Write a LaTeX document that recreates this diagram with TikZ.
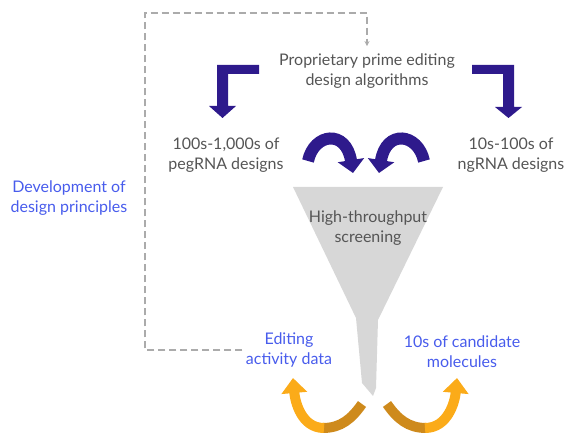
\documentclass[tikz,border=0pt]{standalone}
\usepackage{fontspec}
\setmainfont{Lato}
\usetikzlibrary{arrows.meta}
\usetikzlibrary{positioning}

\definecolor{arrowblue}{RGB}{46,26,140}
\definecolor{labelblue}{RGB}{72,92,236}
\definecolor{labelgrey}{RGB}{85,85,85}
\definecolor{funnelgrey}{RGB}{215,215,215}
\definecolor{orangedark}{RGB}{206,138,28}
\definecolor{orangelight}{RGB}{251,171,25}

\begin{document}
\begin{tikzpicture}[x=1pt,y=-1pt,
  greytext/.style={font=\fontsize{16}{20}\selectfont,text=labelgrey,align=center},
  bluetext/.style={font=\fontsize{16}{20}\selectfont,text=labelblue,align=center},
  dashline/.style={draw=black!33,line width=1.2pt,dash pattern=on 7pt off 4pt},
  bluecurve/.style={draw=arrowblue,line width=12pt,-{Triangle[width=26pt,length=13pt]}},
  orangecurve/.style={line width=10pt}]
\useasboundingbox (0,0) rectangle (565,435);

% funnel
\fill[funnelgrey] (293,187) -- (443,187) -- (378,320) -- (376,388) -- (373,396) -- (362,383) -- (356,318) -- cycle;

\node[greytext] (algo) at (367,71) {Proprietary prime editing\\design algorithms};
\node[greytext] (peg) at (226,155) {100s-1,000s of\\pegRNA designs};
\node[greytext] (ng) at (511,155) {10s-100s of\\ngRNA designs};
\node[greytext] (screen) at (368,228) {High-throughput\\screening};
\node[bluetext] (devel) at (69,198) {Development of\\design principles};
\node[bluetext] (edit) at (289,350) {Editing\\activity data};
\node[bluetext] (cand) at (462,352) {10s of candidate\\molecules};

% elbow arrows
\fill[arrowblue] (259,65) -- (217,65) -- (217,106) -- (209,106) -- (222.5,118) -- (236,106) -- (228,106) -- (228,74) -- (259,74) -- cycle;
\fill[arrowblue] (472,65) -- (514,65) -- (514,107) -- (522,107) -- (508.5,118) -- (495,107) -- (503,107) -- (503,74) -- (472,74) -- cycle;

% curved arrows into the funnel
\draw[bluecurve] (308,161) .. controls (314,133) and (346,129) .. (353,173);
\draw[bluecurve] (424,161) .. controls (418,133) and (386,129) .. (379,173);

% curved arrows out of the funnel
\draw[orangecurve,draw=orangedark] (362,404) to[out=235,in=0] (323,428);
\draw[orangecurve,draw=orangelight,-{Triangle[width=25pt,length=15pt]}] (324,428) to[out=180,in=-85] (293,378);
\draw[orangecurve,draw=orangedark] (387,404) to[out=-55,in=180] (426,428);
\draw[orangecurve,draw=orangelight,-{Triangle[width=25pt,length=15pt]}] (425,428) to[out=0,in=-95] (457,378);

% feedback loop
\coordinate (corner) at (145,13);
\draw[dashline,-{Stealth[length=5pt,width=5pt]},shorten >=4pt] (edit.west) -| (corner) -| (algo.north);

\end{tikzpicture}
\end{document}
